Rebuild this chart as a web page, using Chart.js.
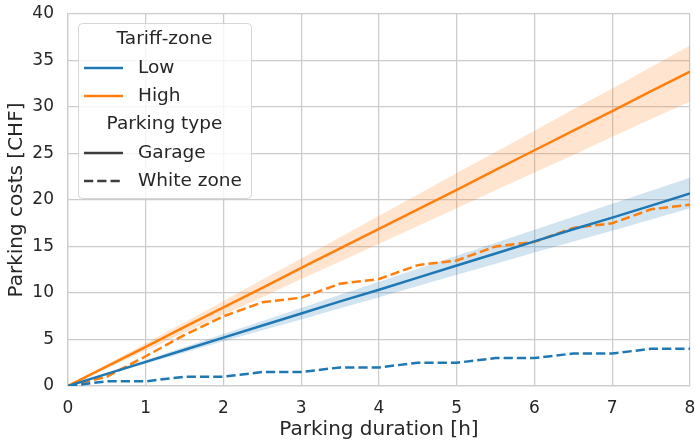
<!DOCTYPE html>
<html>
<head>
<meta charset="utf-8">
<script src="https://cdn.jsdelivr.net/npm/chart.js@4"></script>
<style>
  html, body { margin: 0; padding: 0; background: #fff; }
  #wrap { width: 695px; height: 443px; position: relative; }
</style>
</head>
<body>
<div id="wrap"><canvas id="chart"></canvas></div>
<script>
// durations in hours
const HOURS = [0, 0.5, 1, 1.5, 2, 2.5, 3, 3.5, 4, 4.5, 5, 5.5, 6, 6.5, 7, 7.5, 8];

// Low tariff-zone
const LOW_GARAGE = [0, 1.3, 2.6, 3.9, 5.2, 6.5, 7.8, 9.1, 10.35, 11.65, 12.95, 14.25, 15.55, 16.85, 18.1, 19.4, 20.7];
const LOW_GARAGE_HI = [0, 1.4, 2.8, 4.2, 5.6, 7.0, 8.4, 9.8, 11.2, 12.6, 14.0, 15.4, 16.8, 18.2, 19.6, 21.0, 22.4];
const LOW_GARAGE_LO = [0, 1.2, 2.4, 3.6, 4.8, 6.0, 7.15, 8.35, 9.55, 10.75, 11.95, 13.15, 14.35, 15.55, 16.7, 17.9, 19.1];
const LOW_WHITE = [0, 0.5, 0.5, 1, 1, 1.5, 1.5, 2, 2, 2.5, 2.5, 3, 3, 3.5, 3.5, 4, 4];

// High tariff-zone
const HIGH_GARAGE = [0, 2.1, 4.2, 6.35, 8.45, 10.55, 12.7, 14.8, 16.9, 19.0, 21.1, 23.25, 25.35, 27.45, 29.55, 31.7, 33.8];
const HIGH_GARAGE_HI = [0, 2.3, 4.6, 6.85, 9.15, 11.45, 13.7, 16.0, 18.3, 20.6, 22.9, 25.15, 27.45, 29.75, 32.0, 34.3, 36.6];
const HIGH_GARAGE_LO = [0, 1.9, 3.8, 5.75, 7.65, 9.55, 11.5, 13.4, 15.3, 17.2, 19.1, 21.05, 22.95, 24.85, 26.8, 28.7, 30.6];
const HIGH_WHITE = [0, 1, 3.2, 5.5, 7.5, 9, 9.5, 11, 11.5, 13, 13.5, 15, 15.5, 17, 17.5, 19, 19.5];

const X_TICKS = [0, 1, 2, 3, 4, 5, 6, 7, 8];
const Y_TICKS = [0, 5, 10, 15, 20, 25, 30, 35, 40];

const BLUE = '#1f77b4';
const ORANGE = '#ff7f0e';
const TEXT = '#262626';
const GRID = '#cccccc';
const FONT = 'DejaVu Sans, sans-serif';
const DASH = [9.25, 4];
const LW = 2.5;

const pts = arr => arr.map((v, i) => ({ x: HOURS[i], y: v }));

function band(hi, lo, color) {
  return [
    { data: pts(hi), borderWidth: 0, pointRadius: 0, backgroundColor: color, fill: '+1', order: 5 },
    { data: pts(lo), borderWidth: 0, pointRadius: 0, backgroundColor: color, fill: false, order: 5 },
  ];
}

function line(arr, color, dashed) {
  return {
    data: pts(arr), borderColor: color, borderWidth: LW, pointRadius: 0,
    borderDash: dashed ? DASH : [], fill: false, order: 1, tension: 0,
  };
}

// seaborn style legend with two sub-titles
const LEGEND = [
  { title: 'Tariff-zone', y: 39 },
  { label: 'Low', color: BLUE, dash: [], y: 68 },
  { label: 'High', color: ORANGE, dash: [], y: 96 },
  { title: 'Parking type', y: 124 },
  { label: 'Garage', color: '#3d3d3d', dash: [], y: 153 },
  { label: 'White zone', color: '#3d3d3d', dash: DASH, y: 181 },
];

const legendPlugin = {
  id: 'groupLegend',
  afterDraw(chart) {
    const { ctx } = chart;
    const x0 = 78, y0 = 23, w = 173, h = 175, r = 4;
    ctx.save();
    ctx.beginPath();
    ctx.roundRect(x0 + 0.5, y0 + 0.5, w, h, r);
    ctx.fillStyle = 'rgba(255,255,255,0.8)';
    ctx.fill();
    ctx.strokeStyle = 'rgba(204,204,204,0.8)';
    ctx.lineWidth = 1;
    ctx.stroke();
    ctx.font = '18.5px ' + FONT;
    ctx.textBaseline = 'middle';
    ctx.fillStyle = TEXT;
    LEGEND.forEach(it => {
      if (it.title) {
        ctx.textAlign = 'center';
        ctx.fillText(it.title, x0 + w / 2, it.y);
        return;
      }
      ctx.beginPath();
      ctx.setLineDash(it.dash);
      ctx.strokeStyle = it.color;
      ctx.lineWidth = LW;
      ctx.moveTo(84, it.y);
      ctx.lineTo(123, it.y);
      ctx.stroke();
      ctx.setLineDash([]);
      ctx.textAlign = 'left';
      ctx.fillText(it.label, 138, it.y);
    });
    ctx.restore();
  }
};

new Chart(document.getElementById('chart'), {
  type: 'line',
  data: {
    datasets: [
      ...band(LOW_GARAGE_HI, LOW_GARAGE_LO, 'rgba(31,119,180,0.2)'),
      ...band(HIGH_GARAGE_HI, HIGH_GARAGE_LO, 'rgba(255,127,14,0.2)'),
      line(LOW_GARAGE, BLUE, false),
      line(HIGH_GARAGE, ORANGE, false),
      line(LOW_WHITE, BLUE, true),
      line(HIGH_WHITE, ORANGE, true),
    ]
  },
  options: {
    responsive: true,
    maintainAspectRatio: false,
    animation: false,
    layout: { padding: { left: 0, right: 5, top: 14, bottom: 0 } },
    scales: {
      x: {
        type: 'linear', min: 0, max: 8,
        afterBuildTicks: s => { s.ticks = X_TICKS.map(v => ({ value: v })); },
        afterFit: s => { s.height = 57; s.paddingLeft = 0; s.paddingRight = 0; },
        ticks: { color: TEXT, font: { family: FONT, size: 17 }, padding: 12, maxRotation: 0 },
        grid: { color: GRID, lineWidth: 1.25, drawTicks: false },
        border: { color: GRID, width: 1.25 },
        title: { display: true, text: 'Parking duration [h]', color: TEXT, font: { family: FONT, size: 20 }, padding: { top: 0, bottom: 1 } }
      },
      y: {
        min: 0, max: 40,
        afterBuildTicks: s => { s.ticks = Y_TICKS.map(v => ({ value: v })); },
        afterFit: s => { s.width = 68; s.paddingTop = 0; s.paddingBottom = 0; },
        ticks: { color: TEXT, font: { family: FONT, size: 17 }, padding: 14 },
        grid: { color: GRID, lineWidth: 1.25, drawTicks: false },
        border: { color: GRID, width: 1.25 },
        title: { display: true, text: 'Parking costs [CHF]', color: TEXT, font: { family: FONT, size: 20 }, padding: { top: 5, bottom: 5 } }
      }
    },
    plugins: {
      legend: { display: false },
      tooltip: { enabled: false }
    }
  },
  plugins: [legendPlugin]
});
</script>
</body>
</html>
